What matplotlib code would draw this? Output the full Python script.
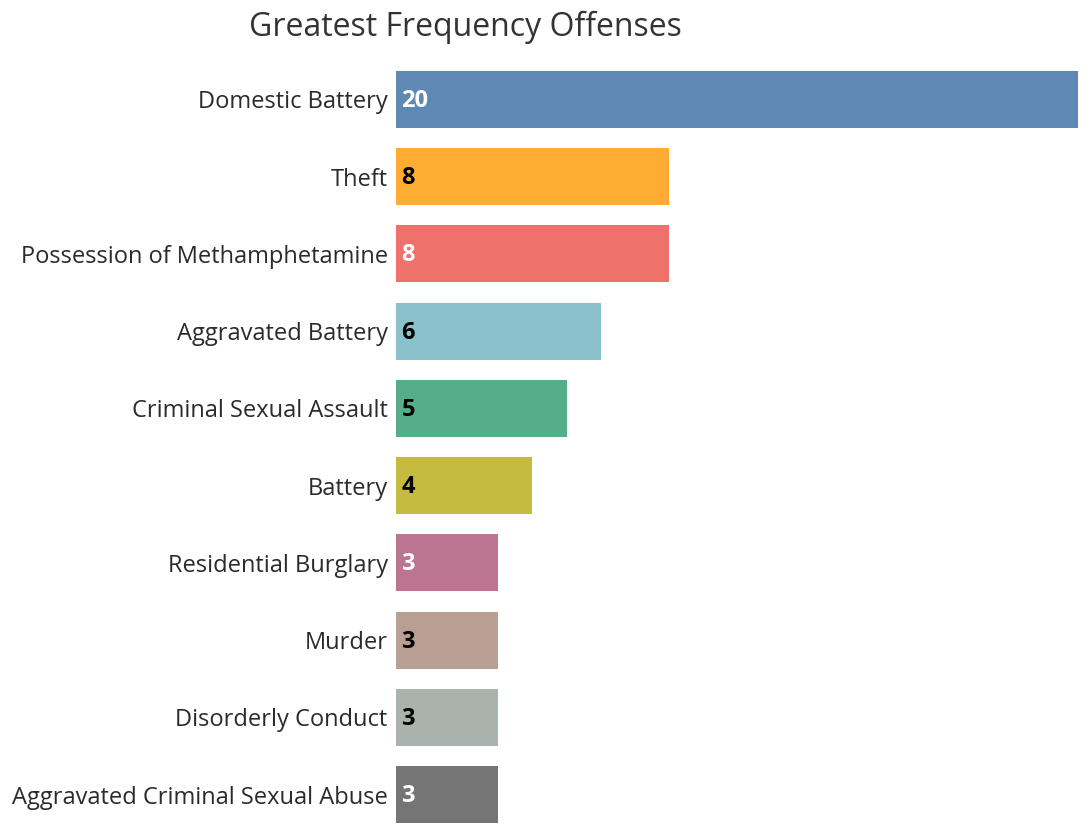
import matplotlib.pyplot as plt

offenses = [
    "Domestic Battery",
    "Theft",
    "Possession of Methamphetamine",
    "Aggravated Battery",
    "Criminal Sexual Assault",
    "Battery",
    "Residential Burglary",
    "Murder",
    "Disorderly Conduct",
    "Aggravated Criminal Sexual Abuse",
]
counts = [20, 8, 8, 6, 5, 4, 3, 3, 3, 3]
colors = ["#6088b4", "#ffac33", "#ef716c", "#8ac1ca", "#56ae89",
          "#c5bb3e", "#bb7590", "#b99f93", "#a9b3ad", "#757575"]
label_colors = ["white", "black", "white", "black", "black",
                "black", "white", "black", "black", "white"]

plt.rcParams['font.family'] = ['Open Sans', 'DejaVu Sans']

fig = plt.figure(figsize=(10.91, 8.31), dpi=100)
ax = fig.add_axes([396 / 1091, 1 - 828 / 831, (1078 - 396) / 1091, (828 - 66) / 831])

pos = list(range(len(offenses)))
ax.barh(pos, counts, height=0.74, color=colors)
ax.set_xlim(0, 20)
ax.set_ylim(9.433, -0.433)

#value labels inside the bars, on the left
for i, (v, c) in enumerate(zip(counts, label_colors)):
    ax.text(0.16, i + 0.02, str(v), va="center", ha="left", color=c,
            fontsize=17, fontweight="bold")

ax.set_yticks(pos)
ax.set_yticklabels(offenses, fontsize=17, color="#2b2b2b")
for t in ax.get_yticklabels():
    t.set_y(t.get_position()[1])
ax.tick_params(axis="y", length=0, pad=6)
ax.set_xticks([])
for s in ax.spines.values():
    s.set_visible(False)

fig.text(465 / 1091, 1 - 27 / 831, "Greatest Frequency Offenses", ha="center", va="center",
         fontsize=23, color="#333333")

fig.savefig("out.png", dpi=100)
